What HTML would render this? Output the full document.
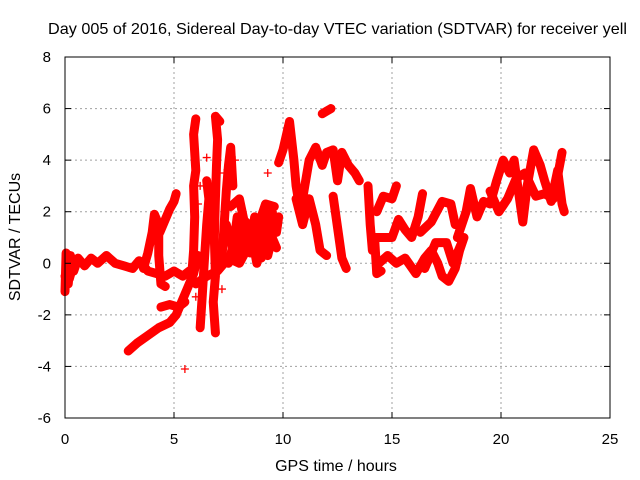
<!DOCTYPE html>
<html><head><meta charset="utf-8"><style>
body{margin:0;background:#fff;}
svg{display:block;font-family:"Liberation Sans",sans-serif;}
</style></head><body>
<svg id="chart" width="640" height="480" viewBox="0 0 640 480" xmlns="http://www.w3.org/2000/svg">
<text x="48" y="34" font-size="16" textLength="579" lengthAdjust="spacingAndGlyphs" fill="#000">Day 005 of 2016, Sidereal Day-to-day VTEC variation (SDTVAR) for receiver yell</text>
<g id="grid"></g>
<g id="marks"></g>
<rect x="65" y="57" width="545" height="361" fill="none" stroke="#000" stroke-width="1"/>
<g id="axes"></g>
<text x="336" y="471" font-size="16" text-anchor="middle">GPS time / hours</text>
<text x="0" y="0" font-size="16" text-anchor="middle" transform="translate(20,237) rotate(-90)">SDTVAR / TECUs</text>
</svg>
<script>
const xTicks=[0,5,10,15,20,25];
const yTicks=[-6,-4,-2,0,2,4,6,8];
const trackA=[[0,-1.1],[0.05,0.4],[0.15,-0.8],[0.25,0.3],[0.4,-0.3],[0.6,0.2],[0.9,-0.1],[1.2,0.2],[1.5,0],[1.9,0.3],[2.3,0],[2.7,-0.1],[3.1,-0.2],[3.4,0.1],[3.8,-0.3],[4.2,-0.4],[4.6,-0.5],[5.0,-0.3],[5.4,-0.5],[5.7,-0.3]];
const trackA2=[[0.0,-0.5],[0.2,-0.6],[0.4,0.0]];
const trackB=[[3.6,-0.2],[3.8,0.4],[4.0,1.2],[4.1,1.9],[4.3,1.5],[4.3,0.3],[4.4,-0.8],[4.6,-0.9]];
const trackB2=[[4.35,1.2],[4.6,1.7],[4.8,2.1],[5.0,2.4],[5.1,2.7]];
const trackC=[[2.9,-3.4],[3.3,-3.1],[3.8,-2.8],[4.3,-2.5],[4.8,-2.3],[5.1,-2.0],[5.3,-1.6],[5.6,-1.0],[5.9,-0.4],[6.1,0.3]];
const trackD=[[4.4,-1.7],[4.8,-1.6],[5.2,-1.7],[5.5,-1.5]];
const spike1=[[5.8,-0.6],[5.9,0.5],[5.95,1.8],[5.9,3.0],[6.0,3.6],[5.95,4.3],[5.9,5.0],[6.0,5.6]];
const spike2=[[6.2,-2.5],[6.3,-1.2],[6.4,0.2],[6.5,1.5],[6.6,2.5],[6.5,3.2]];
const spike3=[[6.9,-2.7],[6.8,-1.5],[6.9,-0.5],[6.85,1.0],[6.9,2.5],[6.95,3.8],[7.0,4.8],[6.9,5.7],[7.1,5.5]];
const spike4=[[7.2,0.2],[7.3,1.5],[7.4,2.8],[7.5,3.8],[7.6,4.5],[7.7,3.0]];
const blob1=[[7.4,1.5],[7.7,0.5],[7.9,1.8],[8.1,0.6],[8.3,1.6],[8.5,0.4],[8.7,1.8],[8.9,0.5],[9.1,2.0],[9.3,0.8],[9.5,2.0],[9.7,1.2],[9.8,1.8]];
const blob2=[[7.5,0.0],[7.8,1.0],[8.0,0.2],[8.3,1.0],[8.6,0.9],[8.8,0.0],[9.0,1.0],[9.3,0.3],[9.5,1.0],[9.7,0.6]];
const blob3=[[7.6,2.2],[8.0,2.5],[8.3,1.3],[8.8,1.3],[9.2,2.3],[9.6,2.2]];
const blobLower=[[6.0,-0.8],[6.5,-0.5],[7.0,-0.3],[7.5,0.2],[8.0,0.0],[8.5,0.8],[9.0,0.2],[9.5,1.0]];
const trackE=[[9.8,3.9],[10.0,4.4],[10.3,5.5],[10.5,4.0],[10.6,3.0],[10.8,2.0],[11.0,3.0],[11.2,4.0],[11.5,4.5],[11.8,3.8],[12.0,4.3],[12.3,4.4],[12.5,3.2],[12.7,4.3],[13.0,3.8],[13.3,3.5],[13.5,3.2]];
const trackE2=[[10.6,2.5],[10.9,1.5],[11.2,2.5],[11.5,1.5],[11.7,0.5],[12.0,0.3]];
const trackE3=[[12.3,2.6],[12.5,1.4],[12.7,0.2],[12.9,-0.2]];
const spikeE=[[11.8,5.8],[12.0,5.9],[12.2,6.0]];
const trackF=[[13.9,3.0],[14.0,1.5],[14.1,0.5],[14.2,1.0],[14.3,-0.4],[14.5,-0.3]];
const trackF2=[[14.3,2.0],[14.6,2.6],[15.0,2.5],[15.2,3.0]];
const trackG=[[14.2,1.0],[14.6,1.0],[15.0,1.0],[15.3,1.7],[15.6,1.3],[15.9,1.0],[16.2,1.8],[16.4,2.7]];
const trackG2=[[16.3,1.2],[16.8,1.6],[17.3,2.4],[17.7,2.3],[17.9,1.5]];
const trackH=[[14.4,0.0],[14.8,0.3],[15.2,0.0],[15.6,0.2],[16.1,-0.4],[16.5,0.2],[16.8,0.5],[17.1,0.0],[17.3,-0.5],[17.6,-0.7],[17.9,-0.2],[18.1,0.5],[18.3,1.0]];
const trackH2=[[16.5,-0.2],[17.0,0.8],[17.5,0.8],[17.8,0.0],[18.2,0.8]];
const trackI=[[18.0,1.0],[18.4,2.0],[18.6,2.9],[18.9,1.8],[19.2,2.4],[19.5,2.3],[19.8,3.2],[20.1,4.0],[20.4,3.5],[20.6,4.0],[20.8,2.8],[21.0,1.6],[21.2,3.0],[21.5,4.4],[21.8,3.8],[22.0,3.2],[22.3,2.4],[22.6,3.6],[22.8,2.3],[22.9,2.0]];
const trackI2=[[19.5,2.8],[19.9,2.0],[20.3,2.5],[20.7,3.3],[21.1,3.5],[21.6,2.6],[22.0,2.7],[22.4,2.5],[22.8,4.3]];
const scatterPts=[[5.5,-4.1],[9.3,3.5],[6.1,2.3],[6.2,3.0],[6.5,4.1],[7.3,3.5],[7.8,4.0],[6.6,-0.5],[7.2,-1.0],[6.0,-1.3]];
const tracks=[trackA,trackA2,trackB,trackB2,trackC,trackD,spike1,spike2,spike3,spike4,blob1,blob2,blob3,blobLower,trackE,trackE2,trackE3,spikeE,trackF,trackF2,trackG,trackG2,trackH,trackH2,trackI,trackI2];

const X0=65,X1=610,Y0=418,Y1=57;
function xs(t){return X0+(t-0)/25*(X1-X0);}
function ys(v){return Y0-(v+6)/14*(Y0-Y1);}
const NS='http://www.w3.org/2000/svg';
function mk(tag,attrs,parent){const e=document.createElementNS(NS,tag);for(const k in attrs)e.setAttribute(k,attrs[k]);parent.appendChild(e);return e;}
const grid=document.getElementById('grid'),axes=document.getElementById('axes'),marks=document.getElementById('marks');
xTicks.forEach(t=>{
  const x=xs(t);
  if(t>0&&t<25){const g=mk('line',{x1:x,x2:x,y1:Y1,y2:Y0,stroke:'#a0a0a0','stroke-dasharray':'2,3'},grid);
  
  }
  mk('line',{x1:x,x2:x,y1:Y0,y2:Y0-6,stroke:'#000'},axes);
  mk('line',{x1:x,x2:x,y1:Y1,y2:Y1+6,stroke:'#000'},axes);
  const l=mk('text',{x:x,y:Y0+26,'font-size':15,'text-anchor':'middle'},axes);
  
  
  l.textContent=t;
});
yTicks.forEach(v=>{
  const y=ys(v);
  if(v>-6&&v<8){const g=mk('line',{x1:X0,x2:X1,y1:y,y2:y,stroke:'#a0a0a0','stroke-dasharray':'2,3'},grid);
  
  }
  mk('line',{x1:X0,x2:X0+6,y1:y,y2:y,stroke:'#000'},axes);
  mk('line',{x1:X1,x2:X1-6,y1:y,y2:y,stroke:'#000'},axes);
  const l=mk('text',{x:X0-14,y:y+5,'font-size':15,'text-anchor':'end'},axes);
  
  
  l.textContent=v;
});
function plus(t,v){
  const x=xs(t),y=ys(v);
  const p=mk('path',{d:`M${x-4},${y}H${x+4}M${x},${y-4}V${y+4}`,stroke:'#f00','stroke-width':1.3,fill:'none'},marks);
  
  
}
tracks.forEach(tr=>{
  const pl=mk('polyline',{points:tr.map(p=>xs(p[0])+','+ys(p[1])).join(' '),fill:'none',stroke:'#f00','stroke-width':9,'stroke-linejoin':'round','stroke-linecap':'round'},marks);
  
  
  tr.forEach(p=>plus(p[0],p[1]));
});
scatterPts.forEach(p=>plus(p[0],p[1]));
</script>
</body></html>
